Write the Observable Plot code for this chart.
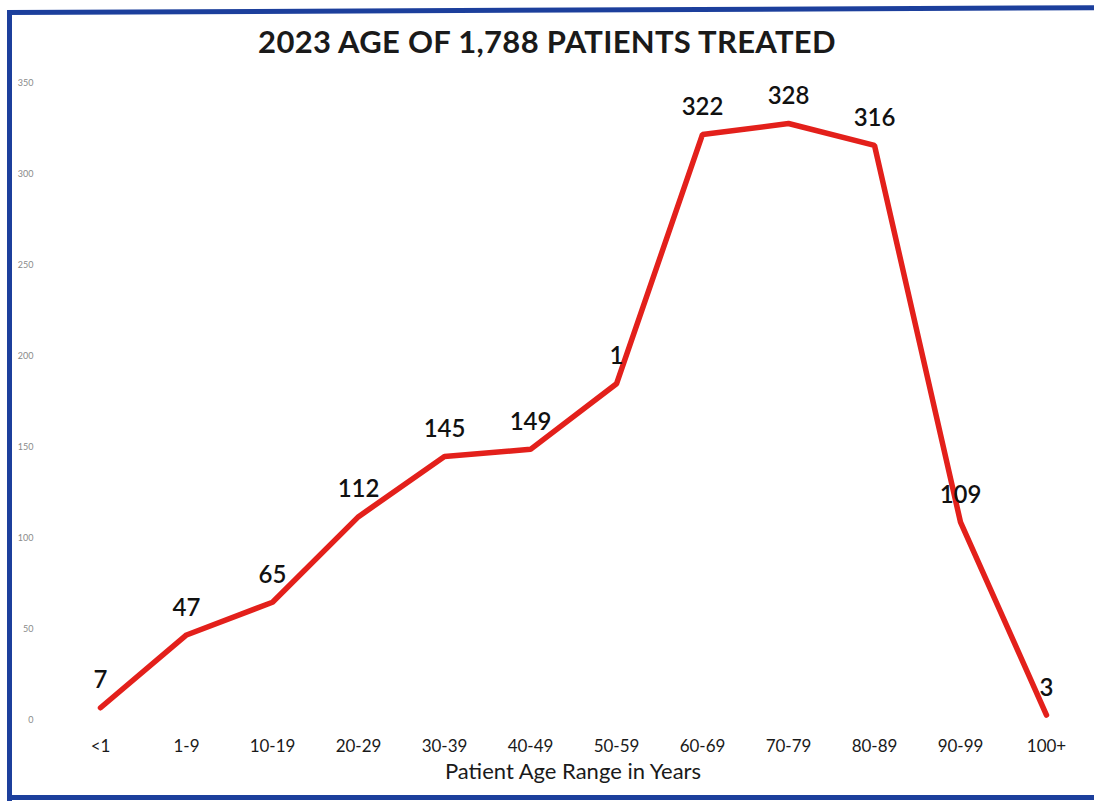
<!DOCTYPE html>
<html>
<head>
<meta charset="utf-8">
<script src="https://cdn.jsdelivr.net/npm/d3@7"></script>
<script src="https://cdn.jsdelivr.net/npm/@observablehq/plot@0.6"></script>
<style>
  html, body { margin: 0; padding: 0; background: #fff; width: 1094px; height: 801px; overflow: hidden; }
  #page { position: relative; width: 1094px; height: 801px; overflow: hidden; background: #fff; }
  .edge { position: absolute; background: #1c3f9c; }
  #title { position: absolute; left: 0; top: 22px; width: 1094px; text-align: center;
           font-family: Lato, "Noto Sans", sans-serif; font-weight: 700; font-size: 31px; color: #1a1a1a; letter-spacing: 0.3px; }
  #chart { position: absolute; left: 0; top: 70px; }
</style>
</head>
<body>
<div id="page">
<div class="edge" style="left:7px; top:11px; width:5px; height:790px;"></div>
<div class="edge" style="left:7px; top:10px; width:1087px; height:5px; transform-origin:0 0; transform:rotate(-0.25deg);"></div>
<div class="edge" style="left:7px; top:795px; width:1087px; height:5px;"></div>
<div id="title">2023 AGE OF 1,788 PATIENTS TREATED</div>
<div id="chart"></div>
</div>
<script>
const ageRanges = ["<1", "1-9", "10-19", "20-29", "30-39", "40-49", "50-59", "60-69", "70-79", "80-89", "90-99", "100+"];
const patients = [7, 47, 65, 112, 145, 149, 185, 322, 328, 316, 109, 3];
const pointLabels = ["7", "47", "65", "112", "145", "149", "1", "322", "328", "316", "109", "3"];
const yTicks = [0, 50, 100, 150, 200, 250, 300, 350];

const data = ageRanges.map((a, i) => ({age: a, value: patients[i], label: pointLabels[i]}));

const chart = Plot.plot({
  width: 1094,
  height: 730,
  marginLeft: 97,
  marginRight: 46,
  marginTop: 13,
  marginBottom: 80,
  style: {fontFamily: "Lato, 'Noto Sans', sans-serif", background: "transparent"},
  x: {type: "point", domain: ageRanges, padding: 0},
  y: {domain: [0, 350]},
  marks: [
    Plot.axisY({ticks: yTicks, tickSize: 0, tickPadding: 64, fontSize: 9, fill: "#8a8a8a", label: null}),
    Plot.axisX({tickSize: 0, tickPadding: 19, fontSize: 17, fill: "#1a1a1a",
      label: "Patient Age Range in Years", labelAnchor: "center", labelArrow: "none", labelOffset: 58}),
    Plot.line(data, {x: "age", y: "value", stroke: "#e3201b", strokeWidth: 5.5, strokeLinejoin: "miter", curve: "linear"}),
    Plot.text(data, {x: "age", y: "value", text: "label", dy: -27, fontSize: 24, fontWeight: 600, fill: "#111"})
  ]
});
document.getElementById("chart").appendChild(chart);
const xl = chart.querySelectorAll("g[aria-label='x-axis label'] text");
xl.forEach(t => { t.setAttribute("font-size", "22"); t.setAttribute("fill", "#1a1a1a"); });
</script>
</body>
</html>
